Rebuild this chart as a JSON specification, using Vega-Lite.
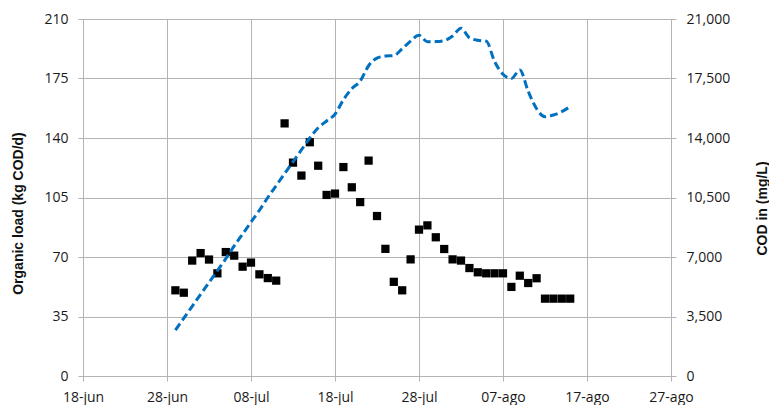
{
  "$schema": "https://vega.github.io/schema/vega-lite/v6.json",
  "autosize": "none",
  "width": 588,
  "height": 357,
  "padding": {"left": 83, "top": 19, "right": 98, "bottom": 29},
  "background": "white",
  "config": {
    "view": {"stroke": null},
    "axis": {
      "labelFont": "Open Sans",
      "labelFontSize": 14,
      "labelColor": "#1a1a1a",
      "titleFont": "Liberation Sans",
      "titleFontSize": 14,
      "titleFontWeight": "bold",
      "titleColor": "#111111",
      "gridColor": "#b3b3b3",
      "domainColor": "#b3b3b3",
      "tickColor": "#b3b3b3",
      "tickSize": 5,
      "gridWidth": 1
    }
  },
  "datasets": {
    "load": [
      {"date": "2017-06-29", "load": 50.4},
      {"date": "2017-06-30", "load": 49.0},
      {"date": "2017-07-01", "load": 67.9},
      {"date": "2017-07-02", "load": 72.3},
      {"date": "2017-07-03", "load": 68.5},
      {"date": "2017-07-04", "load": 60.4},
      {"date": "2017-07-05", "load": 72.9},
      {"date": "2017-07-06", "load": 70.8},
      {"date": "2017-07-07", "load": 64.3},
      {"date": "2017-07-08", "load": 66.7},
      {"date": "2017-07-09", "load": 59.8},
      {"date": "2017-07-10", "load": 57.6},
      {"date": "2017-07-11", "load": 56.1},
      {"date": "2017-07-12", "load": 148.6},
      {"date": "2017-07-13", "load": 125.5},
      {"date": "2017-07-14", "load": 117.9},
      {"date": "2017-07-15", "load": 137.5},
      {"date": "2017-07-16", "load": 123.7},
      {"date": "2017-07-17", "load": 106.5},
      {"date": "2017-07-18", "load": 107.3},
      {"date": "2017-07-19", "load": 122.9},
      {"date": "2017-07-20", "load": 111.0},
      {"date": "2017-07-21", "load": 102.3},
      {"date": "2017-07-22", "load": 126.7},
      {"date": "2017-07-23", "load": 94.1},
      {"date": "2017-07-24", "load": 74.8},
      {"date": "2017-07-25", "load": 55.4},
      {"date": "2017-07-26", "load": 50.4},
      {"date": "2017-07-27", "load": 68.6},
      {"date": "2017-07-28", "load": 86.1},
      {"date": "2017-07-29", "load": 88.6},
      {"date": "2017-07-30", "load": 81.6},
      {"date": "2017-07-31", "load": 74.7},
      {"date": "2017-08-01", "load": 68.6},
      {"date": "2017-08-02", "load": 67.9},
      {"date": "2017-08-03", "load": 63.5},
      {"date": "2017-08-04", "load": 61.0},
      {"date": "2017-08-05", "load": 60.4},
      {"date": "2017-08-06", "load": 60.4},
      {"date": "2017-08-07", "load": 60.4},
      {"date": "2017-08-08", "load": 52.4},
      {"date": "2017-08-09", "load": 59.0},
      {"date": "2017-08-10", "load": 54.7},
      {"date": "2017-08-11", "load": 57.5},
      {"date": "2017-08-12", "load": 45.5},
      {"date": "2017-08-13", "load": 45.5},
      {"date": "2017-08-14", "load": 45.5},
      {"date": "2017-08-15", "load": 45.5}
    ],
    "cod": [
      {"date": "2017-06-29", "cod": 2700},
      {"date": "2017-06-30", "cod": 3400},
      {"date": "2017-07-01", "cod": 4100},
      {"date": "2017-07-02", "cod": 4800},
      {"date": "2017-07-03", "cod": 5500},
      {"date": "2017-07-04", "cod": 6200},
      {"date": "2017-07-05", "cod": 6900},
      {"date": "2017-07-06", "cod": 7650},
      {"date": "2017-07-07", "cod": 8350},
      {"date": "2017-07-08", "cod": 9050},
      {"date": "2017-07-09", "cod": 9750},
      {"date": "2017-07-10", "cod": 10500},
      {"date": "2017-07-11", "cod": 11200},
      {"date": "2017-07-12", "cod": 11900},
      {"date": "2017-07-13", "cod": 12600},
      {"date": "2017-07-14", "cod": 13300},
      {"date": "2017-07-15", "cod": 14000},
      {"date": "2017-07-16", "cod": 14600},
      {"date": "2017-07-17", "cod": 15000},
      {"date": "2017-07-18", "cod": 15400},
      {"date": "2017-07-19", "cod": 16250},
      {"date": "2017-07-20", "cod": 16900},
      {"date": "2017-07-21", "cod": 17350},
      {"date": "2017-07-22", "cod": 18250},
      {"date": "2017-07-23", "cod": 18700},
      {"date": "2017-07-24", "cod": 18820},
      {"date": "2017-07-25", "cod": 18850},
      {"date": "2017-07-26", "cod": 19250},
      {"date": "2017-07-27", "cod": 19700},
      {"date": "2017-07-28", "cod": 20040},
      {"date": "2017-07-29", "cod": 19660},
      {"date": "2017-07-30", "cod": 19670},
      {"date": "2017-07-31", "cod": 19730},
      {"date": "2017-08-01", "cod": 20000},
      {"date": "2017-08-02", "cod": 20460},
      {"date": "2017-08-03", "cod": 19900},
      {"date": "2017-08-04", "cod": 19750},
      {"date": "2017-08-05", "cod": 19700},
      {"date": "2017-08-06", "cod": 18500},
      {"date": "2017-08-07", "cod": 17750},
      {"date": "2017-08-08", "cod": 17500},
      {"date": "2017-08-09", "cod": 18000},
      {"date": "2017-08-10", "cod": 16750},
      {"date": "2017-08-11", "cod": 15720},
      {"date": "2017-08-12", "cod": 15250},
      {"date": "2017-08-13", "cod": 15350},
      {"date": "2017-08-14", "cod": 15550},
      {"date": "2017-08-15", "cod": 15850}
    ]
  },
  "encoding": {
    "x": {
      "field": "date",
      "type": "temporal",
      "scale": {
        "type": "utc",
        "domain": [
          {"year": 2017, "month": 6, "date": 18, "utc": true},
          {"year": 2017, "month": 8, "date": 27, "utc": true}
        ]
      },
      "axis": {
        "title": null,
        "grid": true,
        "values": [
          {"year": 2017, "month": 6, "date": 18, "utc": true},
          {"year": 2017, "month": 6, "date": 28, "utc": true},
          {"year": 2017, "month": 7, "date": 8, "utc": true},
          {"year": 2017, "month": 7, "date": 18, "utc": true},
          {"year": 2017, "month": 7, "date": 28, "utc": true},
          {"year": 2017, "month": 8, "date": 7, "utc": true},
          {"year": 2017, "month": 8, "date": 17, "utc": true},
          {"year": 2017, "month": 8, "date": 27, "utc": true}
        ],
        "labelExpr": "utcFormat(datum.value, '%d') + '-' + ['ene','feb','mar','abr','may','jun','jul','ago','sep','oct','nov','dic'][utcmonth(datum.value)]",
        "labelPadding": 9,
        "labelFlush": false,
        "labelOverlap": false
      }
    }
  },
  "layer": [
    {
      "data": {"name": "load"},
      "mark": {"type": "square", "size": 68, "color": "black", "filled": true, "opacity": 1},
      "encoding": {
        "y": {
          "field": "load",
          "type": "quantitative",
          "scale": {"domain": [0, 210], "nice": false, "zero": true},
          "axis": {
            "orient": "left",
            "title": "Organic load  (kg COD/d)",
            "values": [0, 35, 70, 105, 140, 175, 210],
            "format": "d",
            "grid": true,
            "labelPadding": 10,
            "titleAngle": -90,
            "titleBaseline": "middle",
            "titleAlign": "center",
            "titleX": -65,
            "titleY": 194
          }
        }
      }
    },
    {
      "data": {"name": "cod"},
      "mark": {"type": "line", "color": "#0070C0", "strokeWidth": 3, "strokeDash": [8, 4], "interpolate": "monotone"},
      "encoding": {
        "y": {
          "field": "cod",
          "type": "quantitative",
          "scale": {"domain": [0, 21000], "nice": false, "zero": true},
          "axis": {
            "orient": "right",
            "title": "COD in (mg/L)",
            "values": [0, 3500, 7000, 10500, 14000, 17500, 21000],
            "format": ",d",
            "grid": false,
            "labelPadding": 10,
            "titleAngle": -90,
            "titleBaseline": "middle",
            "titleAlign": "center",
            "titleX": 91,
            "titleY": 189
          }
        }
      }
    }
  ],
  "resolve": {"scale": {"y": "independent"}}
}
